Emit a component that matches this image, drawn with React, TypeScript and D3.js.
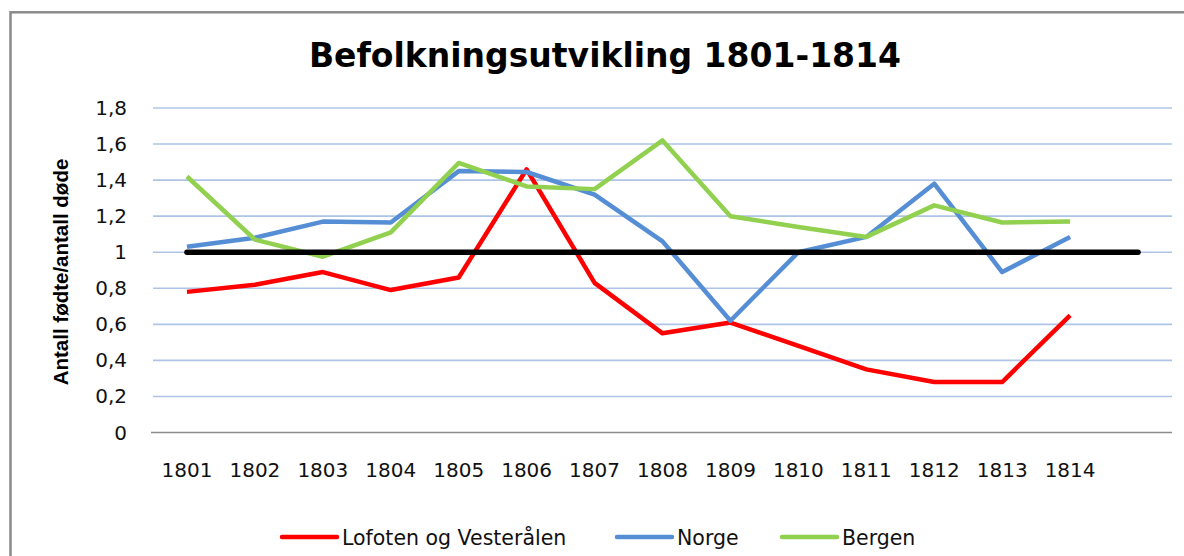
import React, { useEffect, useRef } from "react";
import * as d3 from "d3";

// Befolkningsutvikling: antall fødte / antall døde per år
const years = ["1801", "1802", "1803", "1804", "1805", "1806", "1807", "1808", "1809", "1810", "1811", "1812", "1813", "1814"];
// Excel had one more (empty) category for the reference line
const slots = [...years, ""];

const lofoten = [0.78, 0.82, 0.89, 0.79, 0.86, 1.46, 0.83, 0.55, 0.61, 0.48, 0.35, 0.28, 0.28, 0.65];
const norge = [1.03, 1.08, 1.17, 1.165, 1.45, 1.445, 1.32, 1.06, 0.62, 1.0, 1.085, 1.38, 0.89, 1.085];
const bergen = [1.42, 1.07, 0.975, 1.11, 1.495, 1.365, 1.35, 1.62, 1.2, 1.14, 1.085, 1.26, 1.165, 1.17];
const balance = [1, 1, 1, 1, 1, 1, 1, 1, 1, 1, 1, 1, 1, 1, 1];

const yTicks = [0, 0.2, 0.4, 0.6, 0.8, 1, 1.2, 1.4, 1.6, 1.8];

const seriesNames = ["Lofoten og Vesterålen", "Norge", "Bergen"];
const seriesColors = ["#ff0000", "#558ed5", "#92d050"];

function App() {
  const ref = useRef<SVGSVGElement>(null);

  useEffect(() => {
    const svg = d3.select(ref.current);
    svg.selectAll("*").remove();

    const width = 1184;
    const height = 556;
    const plot = { left: 153, right: 1172, top: 108, bottom: 432.5 };

    const x = d3.scaleBand<number>().domain(d3.range(slots.length)).range([plot.left, plot.right]);
    const cx = (i: number) => (x(i) as number) + x.bandwidth() / 2;
    const y = d3.scaleLinear().domain([0, 1.8]).range([plot.bottom, plot.top]);

    const no = d3.formatLocale({ decimal: ",", thousands: " ", grouping: [3], currency: ["", " kr"] });
    const fmt = no.format("~g");

    // chart frame
    svg.append("rect")
      .attr("x", 10.5).attr("y", 12.3)
      .attr("width", width + 40).attr("height", height + 40)
      .attr("fill", "#fff").attr("stroke", "#8a8a8a").attr("stroke-width", 2.5);

    // title
    svg.append("text")
      .attr("x", 605).attr("y", 67)
      .attr("text-anchor", "middle")
      .style("font-family", "'DejaVu Sans', sans-serif")
      .style("font-weight", "bold").style("font-size", "33px")
      .attr("fill", "#000")
      .text("Befolkningsutvikling 1801-1814");

    // gridlines
    svg.append("g").selectAll("line")
      .data(yTicks.filter((t) => t > 0))
      .join("line")
      .attr("x1", plot.left).attr("x2", plot.right)
      .attr("y1", (d) => y(d)).attr("y2", (d) => y(d))
      .attr("stroke", "#aec4e7").attr("stroke-width", 1.6);

    // x axis line
    svg.append("line")
      .attr("x1", 151).attr("x2", plot.right)
      .attr("y1", y(0)).attr("y2", y(0))
      .attr("stroke", "#8c8c8c").attr("stroke-width", 1.5);

    // y tick labels
    svg.append("g").selectAll("text")
      .data(yTicks)
      .join("text")
      .attr("x", 127).attr("y", (d) => y(d) + 7)
      .attr("text-anchor", "end")
      .style("font-family", "'DejaVu Sans', sans-serif").style("font-size", "20px")
      .attr("fill", "#111")
      .text((d) => fmt(d));

    // x tick labels
    svg.append("g").selectAll("text")
      .data(years)
      .join("text")
      .attr("x", (d, i) => cx(i)).attr("y", 477)
      .attr("text-anchor", "middle")
      .style("font-family", "'DejaVu Sans', sans-serif").style("font-size", "20px")
      .attr("fill", "#111")
      .text((d) => d);

    // y axis title
    svg.append("text")
      .attr("transform", "translate(68,272) rotate(-90)")
      .attr("text-anchor", "middle")
      .style("font-family", "'Liberation Sans', Arial, sans-serif")
      .style("font-weight", "bold").style("font-size", "20.5px")
      .attr("fill", "#000")
      .text("Antall fødte/antall døde");

    const line = d3.line<number>().x((d, i) => cx(i)).y((d) => y(d));

    [lofoten, norge, bergen].forEach((values, k) => {
      svg.append("path")
        .datum(values)
        .attr("d", line)
        .attr("fill", "none")
        .attr("stroke", seriesColors[k])
        .attr("stroke-width", 4.5)
        .attr("stroke-linejoin", "round");
    });

    svg.append("path")
      .datum(balance)
      .attr("d", line)
      .attr("fill", "none")
      .attr("stroke", "#000")
      .attr("stroke-width", 5.5)
      .attr("stroke-linecap", "round");

    // legend
    const legendX = [282, 617, 782];
    const lg = svg.append("g").selectAll("g")
      .data(seriesNames)
      .join("g")
      .attr("transform", (d, i) => `translate(${legendX[i]},537)`);
    lg.append("line")
      .attr("x1", 0).attr("x2", 55)
      .attr("stroke", (d, i) => seriesColors[i])
      .attr("stroke-width", 4.5).attr("stroke-linecap", "round");
    lg.append("text")
      .attr("x", 60).attr("y", 7.5)
      .style("font-family", "'DejaVu Sans', sans-serif").style("font-size", "20.5px")
      .attr("fill", "#111")
      .text((d) => d);
  }, []);

  return (
    <svg
      ref={ref}
      width={1184}
      height={556}
      style={{ position: "absolute", left: 0, top: 0, background: "#fff" }}
    />
  );
}

export default App;
